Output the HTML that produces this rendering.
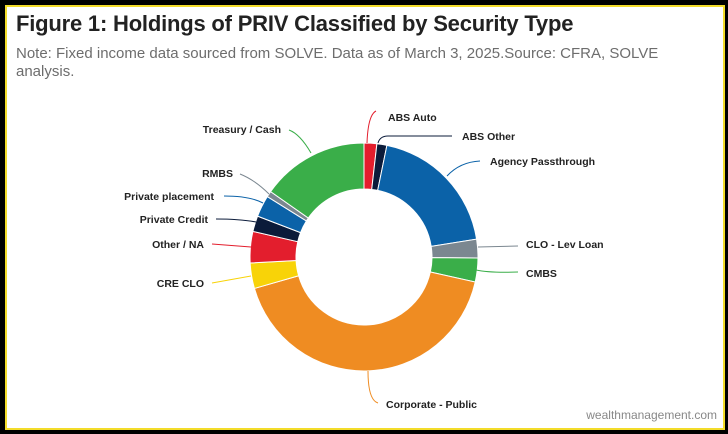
<!DOCTYPE html>
<html><head><meta charset="utf-8"><style>
html,body{margin:0;padding:0;background:#000;}
#f{position:absolute;left:0;top:0;width:728px;height:434px;background:#000;}
#w{position:absolute;left:5px;top:5px;width:716px;height:421px;border:2px solid #f3dc2a;background:#fff;overflow:hidden;}
h1{position:absolute;left:9px;top:4px;margin:0;font:bold 22px "Liberation Sans",sans-serif;color:#222;letter-spacing:-0.2px;}
.n{position:absolute;left:9px;top:38px;width:680px;font:15px/18px "Liberation Sans",sans-serif;color:#6d6d6d;}
.wm{position:absolute;right:6px;bottom:6px;font:12px "Liberation Sans",sans-serif;color:#888;}
svg{position:absolute;left:-7px;top:-7px;}
text{font:bold 10.5px "Liberation Sans",sans-serif;fill:#222;}
</style></head><body><div id="f"><div id="w">
<h1>Figure 1: Holdings of PRIV Classified by Security Type</h1>
<div class="n">Note: Fixed income data sourced from SOLVE. Data as of March 3, 2025.Source: CFRA, SOLVE analysis.</div>
<div class="wm">wealthmanagement.com</div>
<svg width="728" height="434" id="s">
<g id="arcs"></g>
<g fill="none" stroke-width="1">
<path d="M367 143 Q368 115 376 111" stroke="#e31e2d"/>
<path d="M378 143 Q380 136 388 136 L452 136" stroke="#0b1b3a"/>
<path d="M447 176 Q460 162 480 161" stroke="#0b62a8"/>
<path d="M478 247 L518 246" stroke="#7b8790"/>
<path d="M476 270 Q490 273 518 272" stroke="#3aae49"/>
<path d="M368 371 Q368 400 378 403" stroke="#ef8c22"/>
<path d="M251 276 L212 283" stroke="#f8d308"/>
<path d="M251 247 L212 244" stroke="#e31e2d"/>
<path d="M256 222 Q240 219 216 219" stroke="#0b1b3a"/>
<path d="M263 203 Q250 196 224 196" stroke="#0b62a8"/>
<path d="M269 194 Q255 180 240 174" stroke="#7b8790"/>
<path d="M311 153 Q300 134 289 130" stroke="#3aae49"/>
</g>
<text x="388" y="121">ABS Auto</text>
<text x="462" y="140">ABS Other</text>
<text x="490" y="165">Agency Passthrough</text>
<text x="526" y="248">CLO - Lev Loan</text>
<text x="526" y="277">CMBS</text>
<text x="386" y="408">Corporate - Public</text>
<g text-anchor="end">
<text x="204" y="287">CRE CLO</text>
<text x="204" y="248">Other / NA</text>
<text x="208" y="223">Private Credit</text>
<text x="214" y="200">Private placement</text>
<text x="233" y="177">RMBS</text>
<text x="281" y="133">Treasury / Cash</text>
</g>
</svg>
</div></div>
<script>
var cx=364,cy=257,R=114,r=68;
var seg=[[0,6.5,"#e31e2d"],[6.5,11.6,"#0b1b3a"],[11.6,81,"#0b62a8"],[81,90.5,"#7b8790"],[90.5,102.7,"#3aae49"],[102.7,254,"#ef8c22"],[254,267,"#f8d308"],[267,283,"#e31e2d"],[283,291,"#0b1b3a"],[291,302,"#0b62a8"],[302,305,"#7b8790"],[305,360,"#3aae49"]];
function p(a,rad){a=a*Math.PI/180;return [(cx+rad*Math.sin(a)).toFixed(2),(cy-rad*Math.cos(a)).toFixed(2)];}
var h="";
seg.forEach(function(s){var l=(s[1]-s[0])>180?1:0;var a=p(s[0],R),b=p(s[1],R),c=p(s[1],r),d=p(s[0],r);
h+='<path fill="'+s[2]+'" stroke="#fff" stroke-width="1" d="M'+a+' A'+R+' '+R+' 0 '+l+' 1 '+b+' L'+c+' A'+r+' '+r+' 0 '+l+' 0 '+d+' Z"/>';});
document.getElementById("arcs").innerHTML=h;
</script>
</body></html>
